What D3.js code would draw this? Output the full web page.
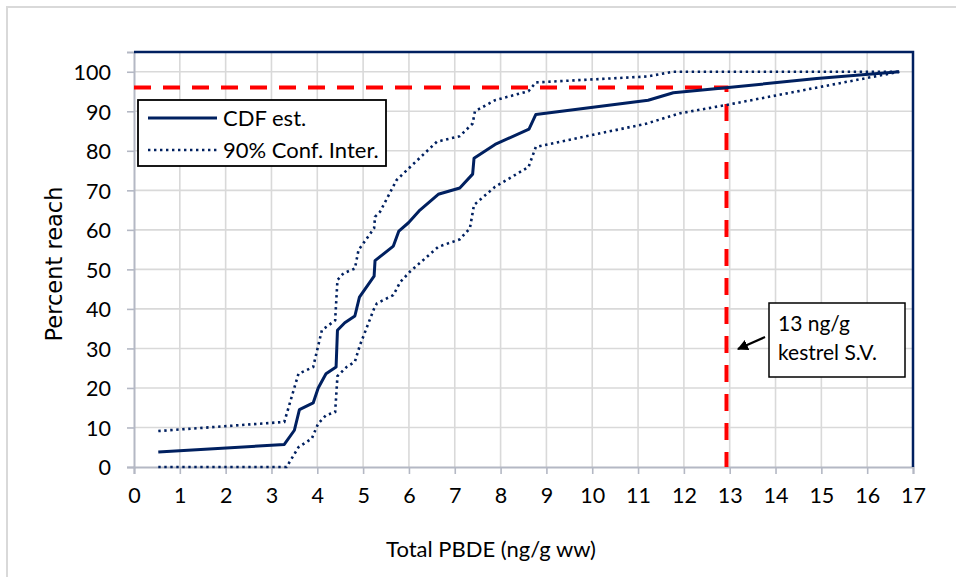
<!DOCTYPE html>
<html>
<head>
<meta charset="utf-8">
<script src="https://cdn.jsdelivr.net/npm/d3@7"></script>
<style>
  body { margin: 0; background: #fff; }
  svg { display: block; }
  .tick text { font-family: Lato, "Liberation Sans", sans-serif; font-size: 21.5px; fill: #000; }
</style>
</head>
<body>
<div id="chart"></div>
<script>
// chart values
var cdfEst = [[0.53,3.8],[3.28,5.7],[3.5,9.3],[3.61,14.5],[3.91,16.2],[4.02,20],[4.19,23.6],[4.41,25.3],
  [4.44,34.6],[4.6,36.5],[4.82,38.2],[4.92,43],[5.24,48.3],[5.26,52.2],[5.66,55.9],[5.78,59.7],
  [5.99,61.8],[6.24,65],[6.64,69],[7.11,70.6],[7.39,74.1],[7.42,78.1],[7.88,81.6],[8.62,85.5],
  [8.77,89.2],[11.22,92.8],[11.77,94.7],[12.97,96],[14.9,98.3],[16.7,100]];

var upperCI = [[0.53,9.1],[3.28,11.4],[3.59,23.6],[3.91,25.3],[4.1,34.6],[4.39,37.1],[4.44,47.3],
  [4.57,49],[4.82,50.2],[4.9,54.9],[5.24,60.4],[5.26,63.3],[5.37,64.6],[5.73,72.6],[5.99,75.5],
  [6.61,82.3],[7.11,83.7],[7.39,86.9],[7.44,90],[7.88,92.8],[8.61,95.1],[8.77,97.3],[11.19,98.8],
  [11.77,100],[16.7,100]];

var lowerCI = [[0.53,0],[3.33,0],[3.59,5],[3.88,7.2],[4.02,11],[4.19,13.1],[4.39,13.9],[4.44,23],
  [4.64,25.3],[4.82,26.6],[4.93,30.8],[5.24,40.1],[5.3,41.4],[5.66,43.5],[5.81,46.8],[6.02,49.4],
  [6.64,55.7],[7.11,57.6],[7.33,60.4],[7.42,66.3],[7.88,70.9],[8.61,75.9],[8.77,81],[11.19,86.9],
  [11.92,89.5],[12.93,91.6],[16.7,100]];

// screening value reference: 13 ng/g reaches ~96 %
var svLine = [[0,96],[12.93,96],[12.93,0]];

var xTicks = d3.range(0, 18, 1);
var yTicks = d3.range(0, 101, 10);
var legendLabels = ["CDF est.", "90% Conf. Inter."];
var noteLines = ["13 ng/g", "kestrel S.V."];

var svgWidth = 956;
var svgHeight = 577;
var margin = { top: 52, right: 43, bottom: 110, left: 134 };
var width = svgWidth - margin.left - margin.right;
var height = svgHeight - margin.top - margin.bottom;

var navy = "#002060";

var svg = d3.select("#chart").append("svg")
  .attr("width", svgWidth)
  .attr("height", svgHeight);

// outer chart frame
svg.append("rect")
  .attr("x", 7).attr("y", 7)
  .attr("width", 980).attr("height", 600)
  .attr("fill", "none")
  .attr("stroke", "#d9d9d9")
  .attr("stroke-width", 2);

var g = svg.append("g")
  .attr("transform", `translate(${margin.left}, ${margin.top})`);

var x = d3.scaleLinear().domain([0, 17]).range([0, width]);
var y = d3.scaleLinear().domain([0, 105]).range([height, 0]);

// gridlines
g.append("g").selectAll("line")
  .data(xTicks.slice(1, -1))
  .enter().append("line")
  .attr("x1", d => x(d)).attr("x2", d => x(d))
  .attr("y1", 0).attr("y2", height)
  .attr("stroke", "#d9d9d9").attr("stroke-width", 1.6);

g.append("g").selectAll("line")
  .data(yTicks.slice(1))
  .enter().append("line")
  .attr("x1", 0).attr("x2", width)
  .attr("y1", d => y(d)).attr("y2", d => y(d))
  .attr("stroke", "#d9d9d9").attr("stroke-width", 1.6);

// axes
var xAxis = g.append("g")
  .attr("transform", `translate(0, ${height})`)
  .call(d3.axisBottom(x).tickValues(xTicks).tickSize(7).tickPadding(14));

var yAxis = g.append("g")
  .call(d3.axisLeft(y).tickValues(yTicks).tickSize(7).tickPadding(16));

[xAxis, yAxis].forEach(function(ax) {
  ax.select(".domain").attr("stroke", "#b4b8c4").attr("stroke-width", 2);
  ax.selectAll(".tick line").attr("stroke", "#b4b8c4").attr("stroke-width", 1.6);
});
yAxis.selectAll(".tick text").attr("dy", "0.36em");

// top and right border
g.append("path")
  .attr("d", `M0,0 H${width} V${height}`)
  .attr("fill", "none")
  .attr("stroke", navy)
  .attr("stroke-width", 2.5);

var line = d3.line().x(d => x(d[0])).y(d => y(d[1]));

// screening value dashed line
g.append("path")
  .datum(svLine)
  .attr("d", line)
  .attr("fill", "none")
  .attr("stroke", "#ff0000")
  .attr("stroke-width", 4)
  .attr("stroke-dasharray", "17,12");

// confidence bounds
[upperCI, lowerCI].forEach(function(s) {
  g.append("path")
    .datum(s)
    .attr("d", line)
    .attr("fill", "none")
    .attr("stroke", navy)
    .attr("stroke-width", 2.6)
    .attr("stroke-dasharray", "2.4,3.6");
});

// CDF estimate
g.append("path")
  .datum(cdfEst)
  .attr("d", line)
  .attr("fill", "none")
  .attr("stroke", navy)
  .attr("stroke-width", 3)
  .attr("stroke-linejoin", "round");

// legend
var legend = svg.append("g");
legend.append("rect")
  .attr("x", 138).attr("y", 100)
  .attr("width", 248).attr("height", 66)
  .attr("fill", "#fff")
  .attr("stroke", "#000")
  .attr("stroke-width", 1.8);

legendLabels.forEach(function(lbl, i) {
  var ly = 118 + i * 32;
  legend.append("line")
    .attr("x1", 148).attr("x2", 217)
    .attr("y1", ly).attr("y2", ly)
    .attr("stroke", navy)
    .attr("stroke-width", i === 0 ? 3 : 2.6)
    .attr("stroke-dasharray", i === 0 ? null : "2.4,3.6");
  legend.append("text")
    .attr("x", 223).attr("y", ly)
    .attr("dy", "0.36em")
    .style("font-family", "Lato, 'Liberation Sans', sans-serif")
    .style("font-size", "22px")
    .text(lbl);
});

// annotation box and arrow
var note = svg.append("g");
note.append("rect")
  .attr("x", 769).attr("y", 303)
  .attr("width", 136).attr("height", 74)
  .attr("fill", "#fff")
  .attr("stroke", "#000")
  .attr("stroke-width", 1.5);

noteLines.forEach(function(t, i) {
  note.append("text")
    .attr("x", 778).attr("y", 323 + i * 29)
    .attr("dy", "0.36em")
    .style("font-family", "Lato, 'Liberation Sans', sans-serif")
    .style("font-size", "21px")
    .text(t);
});

svg.append("defs").append("marker")
  .attr("id", "arrowhead")
  .attr("viewBox", "0 0 10 10")
  .attr("refX", 9).attr("refY", 5)
  .attr("markerWidth", 5).attr("markerHeight", 5)
  .attr("orient", "auto")
  .append("path")
  .attr("d", "M0,0 L10,5 L0,10 z")
  .attr("fill", "#000");

note.append("line")
  .attr("x1", 765).attr("y1", 337)
  .attr("x2", 738).attr("y2", 349)
  .attr("stroke", "#000")
  .attr("stroke-width", 2.2)
  .attr("marker-end", "url(#arrowhead)");

// axis titles
svg.append("text")
  .attr("transform", "translate(62, 264) rotate(-90)")
  .attr("text-anchor", "middle")
  .style("font-family", "'DejaVu Sans', sans-serif")
  .style("font-size", "22.5px")
  .text("Percent reach");

svg.append("text")
  .attr("x", 491).attr("y", 557)
  .attr("text-anchor", "middle")
  .style("font-family", "Lato, 'Liberation Sans', sans-serif")
  .style("font-size", "22px")
  .text("Total PBDE (ng/g ww)");
</script>
</body>
</html>
